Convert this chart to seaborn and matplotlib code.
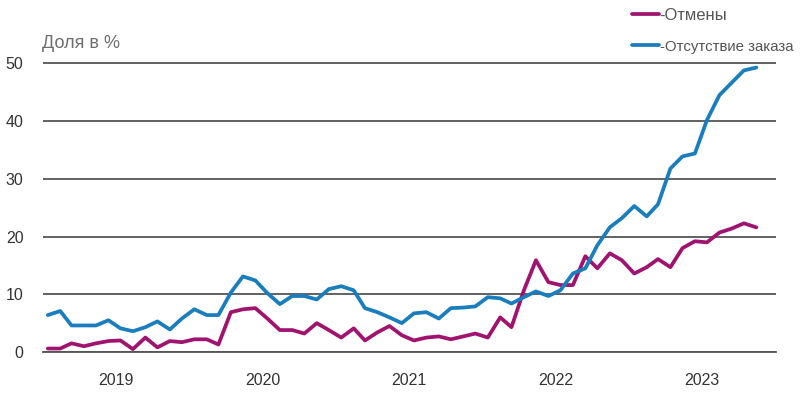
import numpy as np
import pandas as pd
import matplotlib
matplotlib.use('Agg')
import matplotlib.pyplot as plt
import seaborn as sns

# monthly shares, Jan 2019 - Nov 2023
cancellations = [0.6, 0.6, 1.5, 1.0, 1.5, 1.9, 2.0, 0.5, 2.5, 0.8, 1.9, 1.7,
                 2.2, 2.2, 1.3, 6.9, 7.4, 7.6, 5.8, 3.8, 3.8, 3.2, 5.0, 3.8,
                 2.5, 4.1, 2.0, 3.4, 4.5, 2.9, 2.0, 2.5, 2.7, 2.2, 2.7, 3.2,
                 2.5, 6.0, 4.3, 10.7, 15.9, 12.1, 11.6, 11.6, 16.6, 14.5, 17.1, 15.9,
                 13.6, 14.7, 16.1, 14.7, 18.0, 19.2, 19.0, 20.7, 21.4, 22.3, 21.6]
no_orders = [6.4, 7.1, 4.6, 4.6, 4.6, 5.5, 4.1, 3.6, 4.3, 5.3, 3.9, 5.8,
             7.4, 6.4, 6.4, 10.3, 13.1, 12.4, 10.2, 8.3, 9.7, 9.7, 9.1, 10.9,
             11.4, 10.7, 7.6, 6.9, 6.0, 5.0, 6.7, 6.9, 5.8, 7.6, 7.7, 7.9,
             9.5, 9.3, 8.4, 9.5, 10.5, 9.7, 10.7, 13.6, 14.5, 18.5, 21.6, 23.2,
             25.3, 23.5, 25.6, 31.8, 33.9, 34.4, 40.2, 44.5, 46.7, 48.8, 49.3]
series_names = ['Отмены', 'Отсутствие заказа']
years = [2019, 2020, 2021, 2022, 2023]

dates = pd.date_range('2019-01-01', periods=len(no_orders), freq='MS') + pd.Timedelta(days=12)
data = pd.DataFrame({
    'date': np.concatenate([dates, dates]),
    'value': cancellations + no_orders,
    'series': [series_names[0]] * len(dates) + [series_names[1]] * len(dates),
})

sns.set_style('white')
plt.rcParams['font.family'] = ['Liberation Sans', 'DejaVu Sans']

fig = plt.figure(figsize=(8, 3.97), dpi=100)
ax = fig.add_axes([43 / 800, 1 - 352 / 397, 733 / 800, 291.4 / 397])

sns.lineplot(data=data, x='date', y='value', hue='series',
             palette=['#a0146f', '#1a7dbd'], linewidth=2.7, ax=ax, legend=True)

ax.set_ylim(0, 50.5)
ax.set_yticks([0, 10, 20, 30, 40, 50])
ax.yaxis.grid(True, color='#555555', linewidth=1.3)
ax.set_axisbelow(True)
ax.tick_params(axis='y', length=0, labelsize=11.5, labelcolor='#333333', pad=14)

ax.set_xlim(pd.Timestamp('2019-01-01'), pd.Timestamp('2024-01-01'))
ax.set_xticks([pd.Timestamp(f'{y}-01-01') for y in years + [2024]])
ax.set_xticklabels([])
ax.set_xticks([pd.Timestamp(f'{y}-07-01') for y in years], minor=True)
ax.set_xticklabels([str(y) for y in years], minor=True)
ax.tick_params(axis='x', which='major', length=6, width=1.2, color='#555555', direction='out')
ax.tick_params(axis='x', which='minor', length=0, labelsize=11.5, labelcolor='#333333', pad=15)

for s in ['top', 'right', 'left']:
    ax.spines[s].set_visible(False)
ax.spines['bottom'].set_color('#555555')
ax.spines['bottom'].set_linewidth(1.3)
ax.set_xlabel('')
ax.set_ylabel('')

fig.text(42 / 800, 1 - 43 / 397, 'Доля в %', fontsize=13, color='#6e6e6e', va='center', ha='left')

handles, labels = ax.get_legend_handles_labels()
leg = ax.legend(handles, ['-' + l for l in labels], loc='upper left',
                bbox_to_anchor=(632 / 800, 1 - 8 / 397), bbox_transform=fig.transFigure,
                frameon=False, fontsize=12, labelcolor='#555555', handlelength=1.6,
                handletextpad=0.05, labelspacing=1.0, borderpad=0, borderaxespad=0)
leg.get_texts()[1].set_fontsize(10.8)

fig.savefig('out.png', dpi=100)
